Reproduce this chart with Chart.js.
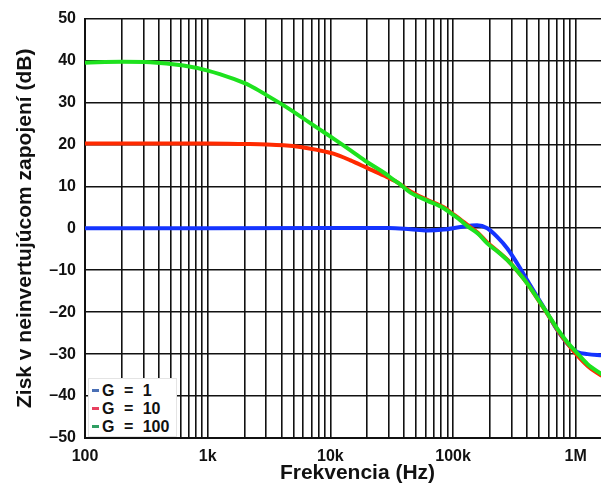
<!DOCTYPE html>
<html>
<head>
<meta charset="utf-8">
<script src="https://cdn.jsdelivr.net/npm/chart.js@4/dist/chart.umd.min.js"></script>
<style>
  html, body { margin: 0; padding: 0; background: #fff; overflow: hidden; }
  #wrap { position: relative; width: 601px; height: 486px; overflow: hidden; }
  #c { position: absolute; left: 0; top: 0; }
  #legend {
    position: absolute; left: 88px; top: 378px; width: 89px; height: 59px;
    background: #fff; box-sizing: border-box; border: 1px solid #e4e4e4;
    padding-top: 2px;
    font-family: "Liberation Sans", Arial, Helvetica, sans-serif; font-weight: bold;
    font-size: 16px; color: #111;
  }
  .row { height: 18px; line-height: 18px; white-space: nowrap; }
  .sw { display: inline-block; width: 7px; height: 3px; margin: 0 3px 0 3px; vertical-align: middle; }
  .lbl { word-spacing: 5px; vertical-align: middle; }
</style>
</head>
<body>
<div id="wrap">
  <canvas id="c" width="630" height="486"></canvas>
  <div id="legend"></div>
</div>
<script>
// ---- data ----
const seriesNames = ['G = 1', 'G = 10', 'G = 100'];
const lineColors = ['#1434ff', '#ff2a00', '#1ee21e'];
const legendColors = ['#4a6fb5', '#e8405f', '#2f9e62'];

const freqG1 = [100, 1000, 10000, 30000, 45000, 61500, 84000, 115000, 157000, 190000, 230000, 277000, 334000, 403000, 487000, 588000, 709000, 856000, 1030000, 1250000, 1630000];
const gainG1 = [0, 0, 0.05, 0.1, -0.2, -0.5, -0.3, 0.3, 0.7, 0.0, -2.1, -4.8, -8.4, -12.4, -16.4, -20.3, -24.3, -27.5, -29.5, -30.0, -30.3];

const freqG10 = [100, 1000, 2000, 3040, 4160, 5690, 7780, 10600, 14600, 19900, 27200, 35000, 45000, 61500, 84000, 100000, 115000, 131000, 160000, 190000, 230000, 277000, 334000, 403000, 487000, 588000, 709000, 856000, 1030000, 1250000, 1630000];
const gainG10 = [20.2, 20.2, 20.1, 20.0, 19.8, 19.4, 18.7, 17.8, 16.2, 14.4, 12.6, 11.0, 8.8, 6.8, 5.0, 3.4, 2.1, 0.8, -1.1, -3.4, -5.4, -7.5, -10.2, -13.2, -16.8, -20.4, -24.2, -27.5, -30.3, -32.8, -35.2];

const freqG100 = [100, 200, 340, 634, 1000, 1630, 2220, 3040, 4160, 5690, 7780, 10600, 14600, 19900, 27200, 33000, 37300, 45000, 61500, 84000, 100000, 115000, 131000, 160000, 190000, 230000, 277000, 334000, 403000, 487000, 588000, 709000, 856000, 1030000, 1250000, 1630000];
const gainG100 = [39.5, 39.7, 39.6, 38.8, 37.6, 35.6, 34.0, 31.7, 29.3, 26.7, 24.0, 21.4, 18.6, 15.8, 13.3, 11.5, 10.4, 8.5, 6.6, 4.8, 3.2, 1.9, 0.5, -1.3, -3.6, -5.5, -7.6, -10.2, -13.2, -16.7, -20.3, -24.0, -27.2, -29.8, -32.4, -34.8];

const xGridValues = [100,200,300,400,500,600,700,800,900,
  1000,2000,3000,4000,5000,6000,7000,8000,9000,
  10000,20000,30000,40000,50000,60000,70000,80000,90000,
  100000,200000,300000,400000,500000,600000,700000,800000,900000,
  1000000,2000000];
const decadeValues = [100, 1000, 10000, 100000, 1000000];
const decadeLabels = ['100', '1k', '10k', '100k', '1M'];
const yMin = -50, yMax = 50, yStep = 10;
const xTitle = 'Frekvencia (Hz)';
const yTitle = 'Zisk v neinvertujúcom zapojení (dB)';

// ---- chart ----
const FONT = '"Liberation Sans", Arial, Helvetica, sans-serif';
const allFreq = [freqG1, freqG10, freqG100];
const allGain = [gainG1, gainG10, gainG100];
const drawOrder = [2, 1, 0];

const datasets = seriesNames.map((name, i) => ({
  label: name,
  data: allFreq[i].map((f, k) => ({ x: f, y: allGain[i][k] })),
  borderColor: lineColors[i],
  backgroundColor: lineColors[i],
  borderWidth: 4,
  pointRadius: 0,
  cubicInterpolationMode: 'monotone',
  fill: false,
  order: drawOrder[i]
}));

new Chart(document.getElementById('c'), {
  type: 'line',
  data: { datasets },
  options: {
    responsive: false,
    animation: false,
    devicePixelRatio: 1,
    layout: { padding: { left: 0, top: 18, right: 0, bottom: 0 } },
    plugins: { legend: { display: false }, tooltip: { enabled: false } },
    scales: {
      x: {
        type: 'logarithmic',
        min: 100,
        max: 2770000,
        afterBuildTicks: (scale) => { scale.ticks = xGridValues.map(v => ({ value: v })); },
        afterFit: (scale) => { scale.height = 48; },
        ticks: {
          autoSkip: false, maxRotation: 0, minRotation: 0, padding: 9,
          color: '#111',
          font: { family: FONT, size: 16, weight: 'bold' },
          callback: (value) => {
            const idx = decadeValues.indexOf(Number(value));
            return idx >= 0 ? decadeLabels[idx] : '';
          }
        },
        grid: { color: '#111', lineWidth: 1.6, drawTicks: false },
        border: { display: true, color: '#111', width: 2 },
        title: {
          display: true, text: xTitle, color: '#111',
          font: { family: FONT, size: 21, weight: 'bold' },
          padding: { top: 0, bottom: 0 }
        }
      },
      y: {
        type: 'linear',
        min: yMin, max: yMax,
        afterFit: (scale) => { scale.width = 85; },
        ticks: {
          stepSize: yStep, padding: 9, color: '#111',
          font: { family: FONT, size: 16, weight: 'bold' },
          callback: (value) => String(value).replace('-', '\u2013')
        },
        grid: { color: '#111', lineWidth: 1.6, drawTicks: false },
        border: { display: true, color: '#111', width: 2 },
        title: {
          display: true, text: yTitle, color: '#111',
          font: { family: FONT, size: 21, weight: 'bold' },
          padding: { top: 13, bottom: 0 }
        }
      }
    }
  }
});

// ---- legend (inside plot, bottom-left) ----
const legend = document.getElementById('legend');
seriesNames.forEach((name, i) => {
  const row = document.createElement('div');
  row.className = 'row';
  const sw = document.createElement('span');
  sw.className = 'sw';
  sw.style.background = legendColors[i];
  const lbl = document.createElement('span');
  lbl.className = 'lbl';
  lbl.textContent = name;
  row.appendChild(sw);
  row.appendChild(lbl);
  legend.appendChild(row);
});
</script>
</body>
</html>
